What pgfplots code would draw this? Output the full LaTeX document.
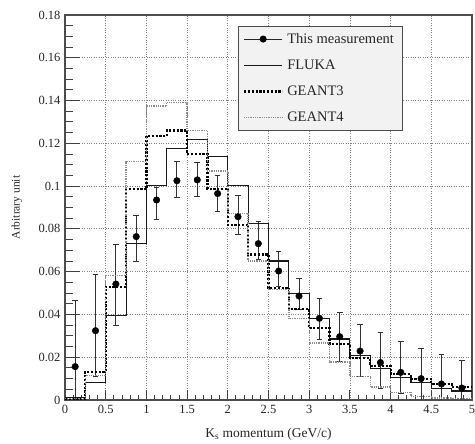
\documentclass[border=0pt]{standalone}
\usepackage{fontspec}
\setmainfont{Liberation Serif}
\usepackage{pgfplots}
\pgfplotsset{compat=1.18}

% histogram contents, value of each 0.25 GeV/c bin at its left edge (last value repeated at 5)
\pgfplotstableread{
x     fluka   geant3  geant4
0.00  0.0010  0.0005  0.0008
0.25  0.0083  0.0132  0.0114
0.50  0.0393  0.0530  0.0581
0.75  0.0733  0.0985  0.1114
1.00  0.1002  0.1234  0.1374
1.25  0.1177  0.1260  0.1390
1.50  0.1217  0.1150  0.1260
1.75  0.1140  0.0988  0.1071
2.00  0.1002  0.0820  0.0873
2.25  0.0826  0.0680  0.0650
2.50  0.0650  0.0525  0.0517
2.75  0.0499  0.0425  0.0382
3.00  0.0382  0.0335  0.0267
3.25  0.0285  0.0262  0.0178
3.50  0.0206  0.0195  0.0109
3.75  0.0148  0.0159  0.0060
4.00  0.0104  0.0120  0.0036
4.25  0.0081  0.0098  0.0015
4.50  0.0055  0.0075  0.0010
4.75  0.0042  0.0060  0.0008
5.00  0.0042  0.0060  0.0008
}\simtab

% measured points with asymmetric errors
\pgfplotstableread{
x      y       ep      em
0.125  0.0156  0.0310  0.0300
0.375  0.0324  0.0265  0.0215
0.625  0.0542  0.0183  0.0192
0.875  0.0764  0.0101  0.0114
1.125  0.0935  0.0060  0.0089
1.375  0.1025  0.0092  0.0077
1.625  0.1029  0.0081  0.0079
1.875  0.0965  0.0084  0.0085
2.125  0.0857  0.0101  0.0081
2.375  0.0731  0.0103  0.0073
2.625  0.0603  0.0090  0.0070
2.875  0.0486  0.0080  0.0061
3.125  0.0382  0.0093  0.0097
3.375  0.0296  0.0112  0.0117
3.625  0.0229  0.0125  0.0120
3.875  0.0175  0.0140  0.0120
4.125  0.0129  0.0144  0.0099
4.375  0.0100  0.0140  0.0100
4.625  0.0075  0.0137  0.0075
4.875  0.0056  0.0131  0.0056
}\datatab

\pgfplotsset{
  histleg/.style={legend image code/.code={\draw[##1] (0pt,0pt) -- (38pt,0pt);}},
}

\begin{document}
\begin{tikzpicture}
\begin{axis}[
    name=ax,
    scale only axis,
    width=407pt, height=385pt,
    xmin=0, xmax=5, ymin=0, ymax=0.18,
    xtick={0,0.5,1,1.5,2,2.5,3,3.5,4,4.5,5},
    ytick={0,0.02,0.04,0.06,0.08,0.1,0.12,0.14,0.16,0.18},
    minor x tick num=4, minor y tick num=3,
    scaled y ticks=false,
    yticklabel style={/pgf/number format/fixed, /pgf/number format/precision=2, xshift=-1pt},
    /pgf/number format/assume math mode=true,
    tick align=inside, tick pos=left,
    tick style={black!75, line width=0.9pt},
    xtick style={/pgfplots/major tick length=10pt, /pgfplots/minor tick length=5pt},
    ytick style={/pgfplots/major tick length=15pt, /pgfplots/minor tick length=8pt},
    axis line style={draw=black!70, line width=1.3pt},
    grid=major,
    major grid style={black!50, dotted, line width=0.8pt},
    ticklabel style={font=\fontsize{12.5}{14}\selectfont, text=black!85},
    xticklabel style={yshift=-2pt},
    xlabel={K\textsubscript{s} momentum (GeV/c)},
    ylabel={Arbitrary unit},
    every axis x label/.style={at={(axis description cs:0.5,-0.088)}, anchor=center,
        font=\fontsize{13.5}{15}\selectfont, text=black!85},
    every axis y label/.style={at={(axis description cs:-0.118,0.5)}, anchor=center, rotate=90,
        font=\fontsize{11.5}{13}\selectfont, text=black!85},
    legend style={at={(0.424,0.972)}, anchor=north west, fill=black!5, draw=black!70,
        line width=1pt, font=\fontsize{14.5}{16}\selectfont, text=black!85,
        row sep=11pt, inner xsep=5pt, inner ysep=5pt,
        nodes={inner xsep=4pt}},
    legend cell align=left,
]
\addplot[only marks, mark=*, mark size=3.3pt, black,
    legend image code/.code={\draw[black!85, line width=1pt] (0pt,0pt) -- (38pt,0pt);
        \fill[black] (19pt,0pt) circle (3pt);},
    error bars/.cd, y dir=both, y explicit,
    error bar style={black!80, line width=0.9pt},
    error mark options={rotate=90, mark size=2.8pt, black!80, line width=0.9pt}]
    table[x=x, y=y, y error plus=ep, y error minus=em] {\datatab};
\addlegendentry{This measurement}
\addplot[const plot, draw=black!90, line width=1.1pt, histleg] table[x=x, y=fluka] {\simtab};
\addlegendentry{FLUKA}
\addplot[const plot, draw=black, line width=2.2pt, dash pattern=on 2.2pt off 1.6pt, histleg]
    table[x=x, y=geant3] {\simtab};
\addlegendentry{GEANT3}
\addplot[const plot, draw=black!45, line width=1.4pt, dash pattern=on 1pt off 0.8pt, histleg]
    table[x=x, y=geant4] {\simtab};
\addlegendentry{GEANT4}
\end{axis}
\pgfresetboundingbox
\path[use as bounding box] ([xshift=-65pt,yshift=-43pt]ax.south west)
    rectangle ([xshift=3pt,yshift=15pt]ax.north east);
\end{tikzpicture}
\end{document}
